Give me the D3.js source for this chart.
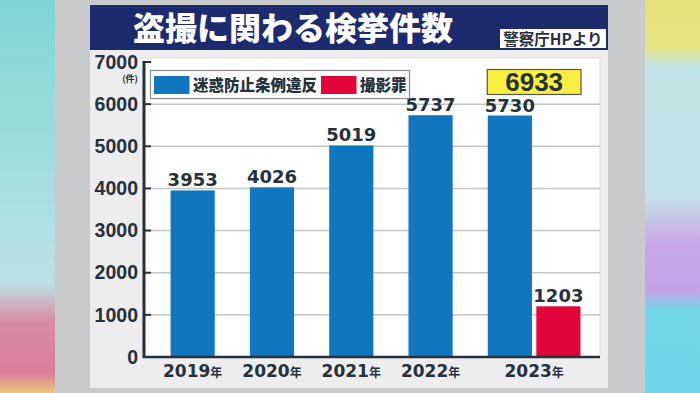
<!DOCTYPE html>
<html>
<head>
<meta charset="utf-8">
<script src="https://cdn.jsdelivr.net/npm/d3@7"></script>
<style>
  body { margin: 0; overflow: hidden; }
  svg { display: block; }
</style>
</head>
<body>
<svg id="chart"></svg>
<script>
// data
const years = ["2019", "2020", "2021", "2022", "2023"];
const meiwaku = [3953, 4026, 5019, 5737, 5730];   // 迷惑防止条例違反
const satsuei = [null, null, null, null, 1203];   // 撮影罪
const seriesNames = ["迷惑防止条例違反", "撮影罪"];
const yTicks = [0, 1000, 2000, 3000, 4000, 5000, 6000, 7000];
const total2023 = 6933;
const title = "盗撮に関わる検挙件数";
const source = "警察庁HPより";

const W = 700, H = 393;
const blue = "#0f76bf", red = "#e2053a", ink = "#26313b";
const numFont = "'DejaVu Sans', sans-serif";
const axFont = "'Liberation Sans', Arial, sans-serif";
const jpFont = "'Noto Sans CJK JP', sans-serif";

const svg = d3.select("#chart").attr("width", W).attr("height", H);
const defs = svg.append("defs");

// colourful blurred backdrop at the sides
const lg = defs.append("linearGradient").attr("id", "leftBg")
  .attr("x1", 0).attr("y1", 0).attr("x2", 0).attr("y2", 1);
[[0, "#7fd6d2"], [0.45, "#a4dedf"], [0.72, "#bce2e4"], [0.82, "#d98aa2"], [0.95, "#db7f9c"], [1, "#e9c77a"]]
  .forEach(s => lg.append("stop").attr("offset", s[0]).attr("stop-color", s[1]));
const rg = defs.append("linearGradient").attr("id", "rightBg")
  .attr("x1", 0).attr("y1", 0).attr("x2", 0).attr("y2", 1);
[[0, "#e6e27a"], [0.12, "#e4e484"], [0.17, "#c2e3e6"], [0.5, "#c4e2e8"], [0.62, "#c8a6e6"], [0.74, "#c2a2e6"], [0.79, "#72d8e8"], [1, "#6cd6e8"]]
  .forEach(s => rg.append("stop").attr("offset", s[0]).attr("stop-color", s[1]));

svg.append("rect").attr("width", W).attr("height", H).attr("fill", "#c9cacc");
svg.append("rect").attr("x", 0).attr("width", 55).attr("height", H).attr("fill", "url(#leftBg)");
svg.append("rect").attr("x", 645).attr("width", 55).attr("height", H).attr("fill", "url(#rightBg)");

// title bar
svg.append("rect").attr("x", 90).attr("y", 5).attr("width", 518).attr("height", 45).attr("fill", "#1b2b6e");
svg.append("text")
  .attr("x", 293).attr("y", 40)
  .attr("text-anchor", "middle")
  .style("font-family", jpFont).style("font-weight", 900).style("font-size", "32px")
  .attr("fill", "#fff")
  .text(title);
svg.append("rect").attr("x", 500).attr("y", 29).attr("width", 106).attr("height", 19).attr("fill", "#fff");
svg.append("text")
  .attr("x", 553).attr("y", 44.5)
  .attr("text-anchor", "middle")
  .style("font-family", jpFont).style("font-weight", 700).style("font-size", "15.5px")
  .attr("fill", ink)
  .text(source);

// chart panel
svg.append("rect").attr("x", 90).attr("y", 50).attr("width", 518).attr("height", 338).attr("fill", "#ededed");
svg.append("rect").attr("x", 143).attr("y", 58).attr("width", 457).attr("height", 299)
  .attr("fill", "#fff").attr("stroke", "#dcdcdc").attr("stroke-width", 1);

// scales
const yScale = d3.scaleLinear().domain([0, 7000]).range([357, 62]);
const xScale = d3.scaleBand().domain(years).range([143, 559.4])
  .paddingInner(0.445).paddingOuter(0.348);
const xSub = d3.scaleBand().domain(seriesNames).range([0, 92.7]).paddingInner(0.09);

// grid
svg.append("g").selectAll("line")
  .data(yTicks.filter(d => d > 0 && d < 7000))
  .enter().append("line")
  .attr("x1", 143).attr("x2", 600)
  .attr("y1", d => yScale(d)).attr("y2", d => yScale(d))
  .attr("stroke", "#c4c4c4").attr("stroke-width", 1.5);

// y axis
const yAxis = d3.axisLeft(yScale).tickValues(yTicks).tickSize(0).tickPadding(5).tickFormat(d => d);
const gy = svg.append("g").attr("transform", "translate(143,0)").call(yAxis);
gy.select(".domain").remove();
gy.selectAll("text")
  .style("font-family", axFont).style("font-weight", 700).style("font-size", "19.5px")
  .attr("fill", ink);
svg.append("g").selectAll("line")
  .data(yTicks)
  .enter().append("line")
  .attr("x1", 143).attr("x2", 151)
  .attr("y1", d => yScale(d)).attr("y2", d => yScale(d))
  .attr("stroke", ink).attr("stroke-width", 2);
svg.append("line").attr("x1", 144).attr("x2", 144).attr("y1", 61).attr("y2", 358)
  .attr("stroke", ink).attr("stroke-width", 3);
svg.append("text")
  .attr("x", 138).attr("y", 82)
  .attr("text-anchor", "end")
  .style("font-family", jpFont).style("font-weight", 700).style("font-size", "9px")
  .attr("fill", ink)
  .text("(件)");

// bars
const rows = years.map((y, i) => ({ year: y, values: [meiwaku[i], satsuei[i]] }));
const colors = d3.scaleOrdinal().domain(seriesNames).range([blue, red]);
const bars = [];
rows.forEach(r => r.values.forEach((v, j) => {
  if (v != null) bars.push({ year: r.year, series: seriesNames[j], value: v });
}));

svg.append("g").selectAll("rect")
  .data(bars)
  .enter().append("rect")
  .attr("x", d => xScale(d.year) + xSub(d.series))
  .attr("y", d => yScale(d.value))
  .attr("width", xSub.bandwidth())
  .attr("height", d => yScale(0) - yScale(d.value))
  .attr("fill", d => colors(d.series));

svg.append("g").selectAll("text")
  .data(bars)
  .enter().append("text")
  .attr("x", d => xScale(d.year) + xSub(d.series) + xSub.bandwidth() / 2)
  .attr("y", d => yScale(d.value) - 4)
  .attr("text-anchor", "middle")
  .style("font-family", numFont).style("font-weight", 700).style("font-size", "18px")
  .attr("fill", ink)
  .text(d => d.value);

// baseline
svg.append("line").attr("x1", 143).attr("x2", 600).attr("y1", yScale(0)).attr("y2", yScale(0))
  .attr("stroke", ink).attr("stroke-width", 2.5);

// x labels
function groupCenter(r) {
  const n = r.values.filter(v => v != null).length;
  const last = seriesNames[n - 1];
  return xScale(r.year) + (xSub(last) + xSub.bandwidth()) / 2;
}
const xl = svg.append("g").selectAll("text")
  .data(rows)
  .enter().append("text")
  .attr("x", d => groupCenter(d))
  .attr("y", 377)
  .attr("text-anchor", "middle")
  .attr("fill", ink);
xl.append("tspan")
  .style("font-family", numFont).style("font-weight", 700).style("font-size", "17px")
  .text(d => d.year);
xl.append("tspan")
  .style("font-family", jpFont).style("font-weight", 700).style("font-size", "12px")
  .text("年");

// 2023 total box
const r23 = rows[4];
const bx = xScale(r23.year);
const bw = xSub(seriesNames[1]) + xSub.bandwidth();
svg.append("rect").attr("x", bx - 0.5).attr("y", 69.5).attr("width", bw + 1).attr("height", 25)
  .attr("fill", "#f9ef3f").attr("stroke", "#555").attr("stroke-width", 1.2);
svg.append("text")
  .attr("x", bx + bw / 2).attr("y", 91)
  .attr("text-anchor", "middle")
  .style("font-family", axFont).style("font-weight", 700).style("font-size", "26px")
  .attr("fill", ink)
  .text(total2023);

// legend
svg.append("rect").attr("x", 150.5).attr("y", 70.5).attr("width", 259).attr("height", 28)
  .attr("fill", "#fff").attr("stroke", "#8a8a8a").attr("stroke-width", 1.2);
const legX = [154, 321];
const leg = svg.append("g").selectAll("g")
  .data(seriesNames)
  .enter().append("g")
  .attr("transform", (d, i) => `translate(${legX[i]},76)`);
leg.append("rect").attr("width", 35.5).attr("height", 18).attr("fill", d => colors(d));
leg.append("text")
  .attr("x", 39).attr("y", 15)
  .style("font-family", jpFont).style("font-weight", 900).style("font-size", "15.5px")
  .attr("fill", ink)
  .text(d => d);
</script>
</body>
</html>
